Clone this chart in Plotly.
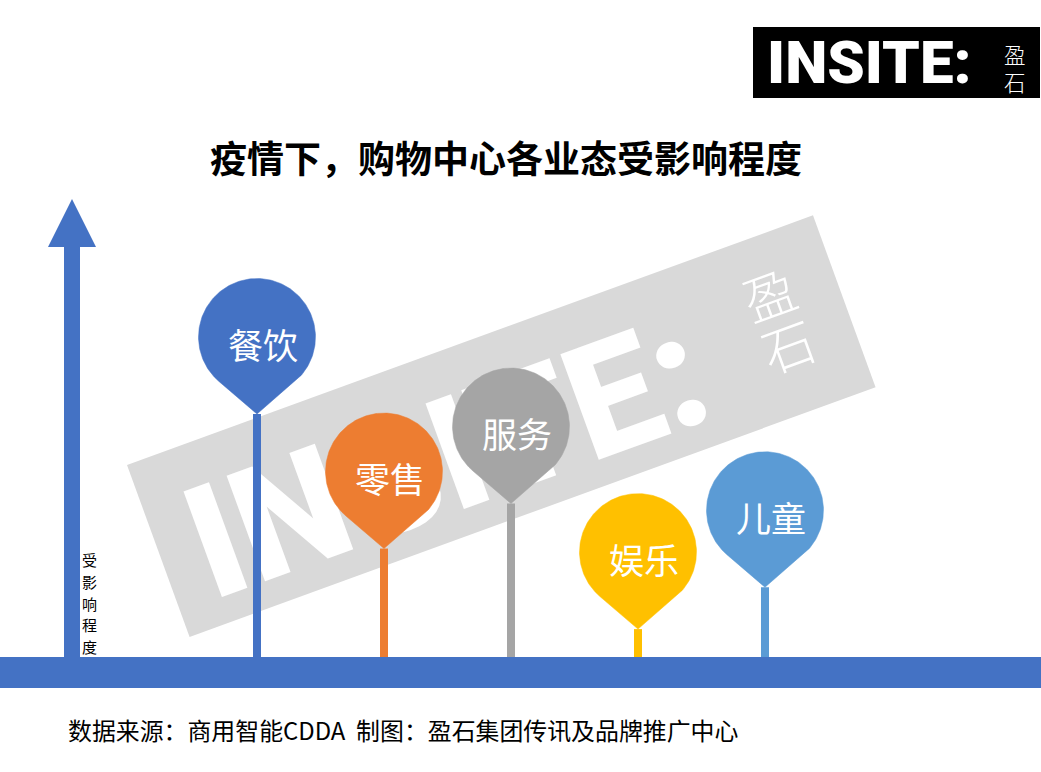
import numpy as np
import plotly.graph_objects as go

W, H = 1041, 772

# ---------------- data ----------------
categories = ["餐饮", "零售", "服务", "娱乐", "儿童"]
impact = [54.0, 24.1, 34.1, 6.2, 15.5]          # 受影响程度 (pin tip height)
colors = ["#4472C4", "#ED7D31", "#A5A5A5", "#FFC000", "#5B9BD5"]

title_text = "疫情下，购物中心各业态受影响程度"
axis_title = "受影响程度"
source_text = "数据来源：商用智能CDDA  制图：盈石集团传讯及品牌推广中心"
logo_text = "INSITE:"
logo_cn = "盈石"

# ---------------- geometry / style ----------------
X0_PX, STEP_PX = 257, 127     # pixel column of first category, spacing
BASE_PX = 657                  # baseline pixel row
YSCALE = 4.5                   # pixels per unit of impact
R_PX = 58.5                    # pin head radius
HEAD_PX = 77                   # tip -> head centre distance
STEM_W = 8
BLUE = "#4472C4"
CJK = "Noto Sans CJK SC"
HEAVY = "Roboto, Inter, Liberation Sans, sans-serif"


def px(x):
    return x / W


def py(y):
    return 1 - y / H


fig = go.Figure()

# stems
for i, (v, c) in enumerate(zip(impact, colors)):
    fig.add_trace(go.Scatter(x=[i, i], y=[0, v], mode="lines",
                             line=dict(color=c, width=STEM_W),
                             hoverinfo="skip", showlegend=False))

# pin heads
rx = R_PX / STEP_PX
ry = R_PX / YSCALE
alpha = np.arccos(R_PX / HEAD_PX)
theta = np.linspace(-np.pi / 2 + alpha, 3 * np.pi / 2 - alpha, 160)
for i, (cat, v, c) in enumerate(zip(categories, impact, colors)):
    cy = v + HEAD_PX / YSCALE
    hx = [i] + list(i + rx * np.cos(theta)) + [i]
    hy = [v] + list(cy + ry * np.sin(theta)) + [v]
    fig.add_trace(go.Scatter(x=hx, y=hy, mode="lines", fill="toself",
                             fillcolor=c, line=dict(color=c, width=0.5),
                             hoverinfo="skip", showlegend=False))
    fig.add_annotation(x=i, y=cy, text=cat, showarrow=False,
                       xanchor="center", yanchor="middle",
                       xshift=6, yshift=-6,
                       font=dict(family=CJK, size=35, color="white"))

shapes = []

# ---------------- watermark (below the data) ----------------
a = np.deg2rad(20)
O = np.array([127.0, 465.0])
u = np.array([np.cos(a), -np.sin(a)])
vv = np.array([np.sin(a), np.cos(a)])
BL, BH = 730, 183


def frame(uu, v):
    return O + uu * u + v * vv


corners = [frame(0, 0), frame(BL, 0), frame(BL, BH), frame(0, BH)]
path = "M " + " L ".join(f"{px(p[0])},{py(p[1])}" for p in corners) + " Z"
shapes.append(dict(type="path", xref="paper", yref="paper", path=path,
                   fillcolor="#D9D9D9", line=dict(width=0), layer="below"))


def wm_label(text, uc, vc, size, family, weight, half=150):
    p0 = frame(uc - half, vc)
    p1 = frame(uc + half, vc)
    return dict(type="line", xref="paper", yref="paper",
                x0=px(p0[0]), y0=py(p0[1]), x1=px(p1[0]), y1=py(p1[1]),
                line=dict(color="rgba(0,0,0,0)", width=1), layer="below",
                label=dict(text=text, textposition="middle", yanchor="middle",
                           font=dict(family=family, size=size, color="white",
                                     weight=weight)))


shapes.append(wm_label(logo_text, 303, 91.5, 158, HEAVY, 900))
shapes.append(wm_label(logo_cn[0], 662, 65.5, 52, CJK, 300, half=40))
shapes.append(wm_label(logo_cn[1], 662, 120.5, 52, CJK, 300, half=40))

# ---------------- axis decorations ----------------
arrow = [(64, BASE_PX), (64, 247), (48, 247), (72, 199), (96, 247), (80, 247), (80, BASE_PX)]
shapes.append(dict(type="path", xref="paper", yref="paper",
                   path="M " + " L ".join(f"{px(x)},{py(y)}" for x, y in arrow) + " Z",
                   fillcolor=BLUE, line=dict(width=0), layer="above"))
# baseline bar
shapes.append(dict(type="rect", xref="paper", yref="y", x0=0, x1=1,
                   y0=0, y1=-(688 - BASE_PX) / YSCALE,
                   fillcolor=BLUE, line=dict(width=0), layer="above"))
# logo box
shapes.append(dict(type="rect", xref="paper", yref="paper",
                   x0=px(753), x1=px(1040), y0=py(98), y1=py(27),
                   fillcolor="black", line=dict(width=0), layer="above"))
fig.update_layout(shapes=shapes)


def ann(x, y, text, font, xanchor="center"):
    fig.add_annotation(xref="paper", yref="paper", x=px(x), y=py(y), text=text,
                       showarrow=False, xanchor=xanchor, yanchor="middle",
                       font=font)


for k, ch in enumerate(axis_title):
    ann(89, 559.5 + 21.8 * k, ch, dict(family=CJK, size=15, color="black"))
ann(505.5, 156.5, title_text, dict(family=CJK, size=37, color="black", weight=700))
ann(66, 729, source_text, dict(family=CJK, size=23.9, color="black"), xanchor="left")
ann(869.5, 63, logo_text, dict(family=HEAVY, size=60, color="white", weight=900))
ann(1015, 67.5, "<br>".join(logo_cn), dict(family=CJK, size=21.5, color="white", weight=300))

fig.update_layout(
    width=W, height=H, autosize=False,
    margin=dict(l=0, r=0, t=0, b=0, pad=0),
    paper_bgcolor="white", plot_bgcolor="white",
    xaxis=dict(range=[-X0_PX / STEP_PX, (W - X0_PX) / STEP_PX], visible=False, fixedrange=True),
    yaxis=dict(range=[-(H - BASE_PX) / YSCALE, BASE_PX / YSCALE], visible=False, fixedrange=True),
    showlegend=False,
)

fig.write_html("out.html", config={"displayModeBar": False},
               post_script="document.body.style.margin='0';document.body.style.overflow='hidden';")
